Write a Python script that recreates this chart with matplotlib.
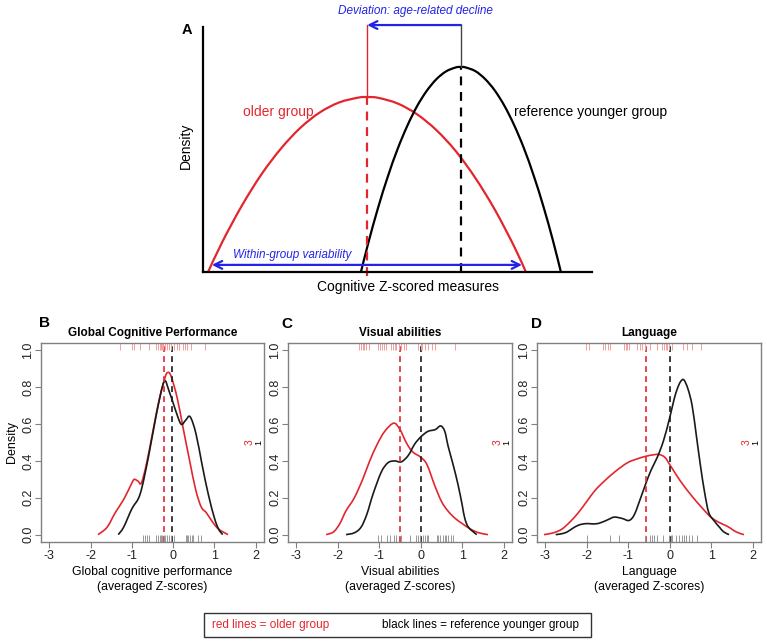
import numpy as np
import matplotlib
matplotlib.use('Agg')
from matplotlib import pyplot as plt
from matplotlib.path import Path
from matplotlib.patches import PathPatch
from matplotlib.transforms import blended_transform_factory

plt.rcParams['font.family'] = ['Liberation Sans', 'DejaVu Sans']

RED = '#e3262d'
BLACK = '#1a1a1a'
BLUE = '#2323e6'
GRAY = '#808080'

# ---- panel A (schematic, arbitrary units) ----
a_red_x = [0.13, 0.5, 1.0, 1.5, 2.0, 2.5, 3.0, 3.5, 4.0, 4.22, 4.5, 5.0, 5.5, 6.0,
           6.5, 7.0, 7.5, 8.0, 8.3]
a_red_y = [0.0, 1.24, 2.71, 3.98, 5.03, 5.88, 6.51, 6.92, 7.12, 7.14, 7.11, 6.88,
           6.44, 5.79, 4.93, 3.84, 2.55, 1.04, 0.0]
a_blk_x = [4.06, 4.25, 4.5, 4.75, 5.0, 5.25, 5.5, 5.75, 6.0, 6.25, 6.5, 6.63, 6.75,
           7.0, 7.25, 7.5, 7.75, 8.0, 8.25, 8.5, 8.75, 9.0, 9.2]
a_blk_y = [0.0, 1.19, 2.62, 3.89, 5.01, 5.96, 6.76, 7.39, 7.87, 8.19, 8.35, 8.37,
           8.35, 8.20, 7.88, 7.41, 6.78, 5.99, 5.05, 3.94, 2.68, 1.26, 0.0]
a_red_mode = 4.22
a_blk_mode = 6.63
a_red_peak = 7.14
a_blk_peak = 8.37
a_range = (0.23, 8.2)

# ---- panel B: global cognitive performance ----
b_red_x = [-1.82, -1.6, -1.4, -1.2, -1.0, -0.94, -0.85, -0.77, -0.65, -0.5, -0.35,
           -0.2, -0.13, -0.05, 0.1, 0.24, 0.4, 0.55, 0.68, 0.8, 0.95, 1.1, 1.33]
b_red_y = [0.0, 0.04, 0.12, 0.19, 0.28, 0.30, 0.29, 0.28, 0.38, 0.55, 0.72,
           0.85, 0.88, 0.86, 0.74, 0.58, 0.40, 0.24, 0.15, 0.12, 0.07, 0.03, 0.0]
b_blk_x = [-1.33, -1.2, -1.0, -0.8, -0.6, -0.4, -0.22, -0.1, 0.05, 0.19, 0.3, 0.41,
           0.55, 0.7, 0.85, 1.0, 1.1, 1.2]
b_blk_y = [0.0, 0.04, 0.14, 0.22, 0.42, 0.66, 0.83, 0.78, 0.68, 0.60, 0.62, 0.64,
           0.55, 0.38, 0.22, 0.09, 0.03, 0.0]
b_red_mean = -0.22
b_blk_mean = -0.03
b_red_rug = [-1.28, -1.00, -0.96, -0.81, -0.59, -0.41, -0.37, -0.32, -0.29, -0.27,
             -0.24, -0.19, -0.15, -0.10, -0.05, 0.03, 0.10, 0.15, 0.23, 0.29, 0.33,
             0.44, 0.77]
b_blk_rug = [-0.73, -0.69, -0.63, -0.59, -0.41, -0.37, -0.31, -0.29, -0.26, -0.23,
             -0.19, -0.15, -0.10, -0.05, 0.03, 0.30, 0.33, 0.37, 0.41, 0.45, 0.49,
             0.61, 0.68]

# ---- panel C: visual abilities ----
c_red_x = [-2.28, -2.1, -1.95, -1.8, -1.6, -1.4, -1.23, -1.05, -0.87, -0.65, -0.5,
           -0.35, -0.2, 0.0, 0.15, 0.34, 0.5, 0.65, 0.82, 1.0, 1.2, 1.4, 1.62]
c_red_y = [0.0, 0.015, 0.06, 0.13, 0.2, 0.3, 0.4, 0.49, 0.56, 0.605, 0.57,
           0.5, 0.45, 0.42, 0.38, 0.265, 0.18, 0.13, 0.09, 0.06, 0.03, 0.01, 0.0]
c_blk_x = [-1.8, -1.6, -1.44, -1.3, -1.15, -0.95, -0.79, -0.63, -0.47, -0.3, -0.15,
           0.0, 0.17, 0.35, 0.48, 0.58, 0.66, 0.78, 0.9, 1.0, 1.06, 1.15, 1.35]
c_blk_y = [0.0, 0.01, 0.04, 0.11, 0.22, 0.34, 0.39, 0.40, 0.395, 0.43, 0.49,
           0.53, 0.56, 0.57, 0.59, 0.56, 0.48, 0.38, 0.27, 0.16, 0.09, 0.04, 0.0]
c_red_mean = -0.49
c_blk_mean = 0.0
c_red_rug = [-1.50, -1.45, -1.40, -1.36, -1.32, -1.24, -1.03, -0.99, -0.94, -0.89,
             -0.83, -0.71, -0.67, -0.63, -0.59, -0.53, -0.47, -0.40, -0.35, -0.07,
             0.0, 0.04, 0.10, 0.18, 0.26, 0.34, 0.82]
c_blk_rug = [-1.02, -0.97, -0.81, -0.75, -0.65, -0.59, -0.47, -0.27, -0.12, -0.07,
             -0.01, 0.06, 0.10, 0.14, 0.18, 0.38, 0.42, 0.46, 0.54, 0.58, 0.62,
             0.66, 0.74, 0.78]

# ---- panel D: language ----
d_red_x = [-3.03, -2.8, -2.6, -2.4, -2.2, -2.0, -1.8, -1.58, -1.3, -1.02, -0.8,
           -0.58, -0.4, -0.26, -0.12, 0.0, 0.17, 0.34, 0.55, 0.74, 0.99, 1.2, 1.39,
           1.6, 1.79]
d_red_y = [0.0, 0.01, 0.03, 0.07, 0.12, 0.18, 0.24, 0.29, 0.345, 0.39, 0.41,
           0.425, 0.433, 0.435, 0.42, 0.38, 0.32, 0.265, 0.205, 0.155, 0.095, 0.065,
           0.045, 0.015, 0.0]
d_blk_x = [-2.75, -2.6, -2.47, -2.3, -2.15, -1.98, -1.85, -1.7, -1.5, -1.34, -1.15,
           -0.98, -0.85, -0.7, -0.58, -0.45, -0.3, -0.15, 0.0, 0.1, 0.18, 0.26, 0.34,
           0.44, 0.54, 0.64, 0.74, 0.84, 0.94, 1.07, 1.2, 1.3, 1.43]
d_blk_y = [0.0, 0.005, 0.015, 0.04, 0.055, 0.06, 0.058, 0.062, 0.08, 0.095, 0.088,
           0.077, 0.11, 0.2, 0.275, 0.35, 0.42, 0.51, 0.635, 0.73, 0.79, 0.83, 0.84,
           0.79, 0.70, 0.54, 0.375, 0.23, 0.12, 0.075, 0.04, 0.015, 0.0]
d_red_mean = -0.58
d_blk_mean = 0.0
d_red_rug = [-2.01, -1.95, -1.61, -1.56, -1.50, -1.44, -1.10, -1.06, -1.02, -0.98,
             -0.78, -0.72, -0.68, -0.59, -0.47, -0.30, -0.18, -0.14, -0.10, -0.06,
             -0.02, 0.06, 0.32, 0.42, 0.54, 0.76]
d_blk_rug = [-1.99, -1.43, -1.23, -0.59, -0.47, -0.42, -0.37, -0.30, -0.16, -0.02,
             0.02, 0.06, 0.14, 0.22, 0.30, 0.34, 0.38, 0.46, 0.54, 0.66]

xticks = [-3, -2, -1, 0, 1, 2]
yticks = [0.0, 0.2, 0.4, 0.6, 0.8, 1.0]

W, H = 767, 643
fig = plt.figure(figsize=(W / 100, H / 100), dpi=100)


def px_axes(left, top, right, bottom):
    return fig.add_axes([left / W, 1 - bottom / H, (right - left) / W, (bottom - top) / H])


def smooth_curve(ax, x, y, color, lw, clip=True):
    # draw the read points as a smooth bezier line (catmull-rom handles)
    pts = np.column_stack([x, y]).astype(float)
    verts = [pts[0]]
    codes = [Path.MOVETO]
    n = len(pts)
    for i in range(n - 1):
        p0 = pts[i - 1] if i > 0 else pts[i]
        p1, p2 = pts[i], pts[i + 1]
        p3 = pts[i + 2] if i + 2 < n else pts[i + 1]
        verts += [p1 + (p2 - p0) / 6, p2 - (p3 - p1) / 6, p2]
        codes += [Path.CURVE4] * 3
    patch = PathPatch(Path(verts, codes), fill=False, edgecolor=color, lw=lw,
                      clip_on=clip)
    ax.add_patch(patch)


# ================= Panel A =================
ax = px_axes(203, 27, 592, 272)
ax.set_xlim(0, 10)
ax.set_ylim(0, 10)
for s in ['top', 'right']:
    ax.spines[s].set_visible(False)
for s in ['left', 'bottom']:
    ax.spines[s].set_linewidth(1.6)
    ax.spines[s].set_color('black')
ax.set_xticks([])
ax.set_yticks([])

smooth_curve(ax, a_red_x, a_red_y, RED, 1.6, clip=False)
smooth_curve(ax, a_blk_x, a_blk_y, 'black', 1.6, clip=False)
ax.plot([a_red_mode, a_red_mode], [-0.15, a_red_peak], color=RED, lw=1.6,
        ls=(0, (4, 3)), clip_on=False)
ax.plot([a_blk_mode, a_blk_mode], [0, a_blk_peak], color='black', lw=1.6,
        ls=(0, (4, 3)), clip_on=False)
ax.plot([a_red_mode, a_red_mode], [a_red_peak, 10.08], color=RED, lw=1.0, clip_on=False)
ax.plot([a_blk_mode, a_blk_mode], [a_blk_peak, 10.08], color='#444444', lw=1.0,
        clip_on=False)
ax.annotate('', xy=(a_red_mode, 10.08), xytext=(a_blk_mode, 10.08),
            arrowprops=dict(arrowstyle='->', color=BLUE, lw=1.6,
                            shrinkA=0, shrinkB=0, mutation_scale=14),
            annotation_clip=False)
ax.annotate('', xy=(a_range[0], 0.29), xytext=(a_range[1], 0.29),
            arrowprops=dict(arrowstyle='<->', color=BLUE, lw=1.6,
                            shrinkA=0, shrinkB=0, mutation_scale=14),
            annotation_clip=False)
ax.text(5.45, 10.65, 'Deviation: age-related decline', color=BLUE, style='italic',
        fontsize=8.5, ha='center', va='center', clip_on=False)
ax.text(2.30, 0.69, 'Within-group variability', color=BLUE, style='italic',
        fontsize=8.5, ha='center', va='center')
ax.text(1.93, 6.53, 'older group', color=RED, fontsize=10, ha='center', va='center')
ax.text(8.0, 6.53, 'reference younger group', color='black', fontsize=10,
        ha='left', va='center', clip_on=False)
fig.text(408 / W, 1 - 287 / H, 'Cognitive Z-scored measures', fontsize=10,
         ha='center', va='center')
fig.text(186 / W, 1 - 146 / H, 'Density', fontsize=10, rotation=90,
         ha='center', va='center')
fig.text(187 / W, 1 - 30 / H, 'A', fontsize=10.5, fontweight='bold',
         ha='center', va='center')

# ================= Panels B, C, D =================
panels = [
    dict(box=(41, 343, 264, 542), letter='B', lpos=(45, 323),
         title='Global Cognitive Performance', xlab='Global cognitive performance',
         red=(b_red_x, b_red_y), blk=(b_blk_x, b_blk_y),
         means=(b_red_mean, b_blk_mean), rugs=(b_red_rug, b_blk_rug)),
    dict(box=(288, 343, 512, 542), letter='C', lpos=(287, 324),
         title='Visual abilities', xlab='Visual abilities',
         red=(c_red_x, c_red_y), blk=(c_blk_x, c_blk_y),
         means=(c_red_mean, c_blk_mean), rugs=(c_red_rug, c_blk_rug)),
    dict(box=(537, 343, 761, 542), letter='D', lpos=(537, 324),
         title='Language', xlab='Language',
         red=(d_red_x, d_red_y), blk=(d_blk_x, d_blk_y),
         means=(d_red_mean, d_blk_mean), rugs=(d_red_rug, d_blk_rug)),
]

for i, p in enumerate(panels):
    l, t, r, b = p['box']
    ax = px_axes(l, t, r, b)
    ax.set_xlim(-3.2, 2.2)
    ax.set_ylim(-0.04, 1.04)
    for s in ax.spines.values():
        s.set_color(GRAY)
        s.set_linewidth(1.0)
    ax.set_xticks(xticks)
    ax.set_xticklabels([str(v) for v in xticks])
    ax.set_yticks(yticks)
    ax.set_yticklabels(['%.1f' % v for v in yticks], rotation=90, va='center')
    ax.tick_params(length=4, width=0.8, color=GRAY, labelsize=9,
                   labelcolor='#222222')
    ax.tick_params(axis='y', pad=1)
    ax.tick_params(axis='x', pad=2)

    smooth_curve(ax, *p['red'], RED, 1.2)
    smooth_curve(ax, *p['blk'], BLACK, 1.2)
    ax.axvline(p['means'][0], color=RED, lw=1.2, ls=(0, (3.5, 2.5)))
    ax.axvline(p['means'][1], color=BLACK, lw=1.2, ls=(0, (3.5, 2.5)))

    tr = blended_transform_factory(ax.transData, ax.transAxes)
    ax.vlines(p['rugs'][0], 0.965, 1.0, color='#f2a0a0', lw=0.7, transform=tr)
    ax.vlines(p['rugs'][1], 0.0, 0.035, color='#999999', lw=0.7, transform=tr)

    ax.text(1.86, 0.5, '3', color=RED, fontsize=7.5, rotation=90,
            ha='center', va='center')
    ax.text(2.08, 0.5, '1', color='black', fontsize=6.5, rotation=90,
            ha='center', va='center')

    ax.set_title(p['title'], fontsize=8.5, fontweight='bold', pad=5)
    fig.text(p['lpos'][0] / W, 1 - p['lpos'][1] / H, p['letter'], fontsize=11,
             fontweight='bold', ha='center', va='center')
    cx = (l + r) / 2
    fig.text(cx / W, 1 - 572 / H, p['xlab'], fontsize=8.8, ha='center', va='center')
    fig.text(cx / W, 1 - 587 / H, '(averaged Z-scores)', fontsize=8.8,
             ha='center', va='center')
    if i == 0:
        fig.text(12 / W, 1 - 442 / H, 'Density', fontsize=9, rotation=90,
                 ha='center', va='center')

# ================= legend box =================
leg = plt.Rectangle((204 / W, 1 - 637 / H), (591 - 204) / W, (637 - 613) / H,
                    transform=fig.transFigure, fill=False, edgecolor='#333333', lw=1.0)
fig.add_artist(leg)
fig.text(212 / W, 1 - 625 / H, 'red lines = older group', color=RED, fontsize=8.5,
         ha='left', va='center')
fig.text(382 / W, 1 - 625 / H, 'black lines = reference younger group', color='black',
         fontsize=8.5, ha='left', va='center')

fig.savefig('out.png', dpi=100)
